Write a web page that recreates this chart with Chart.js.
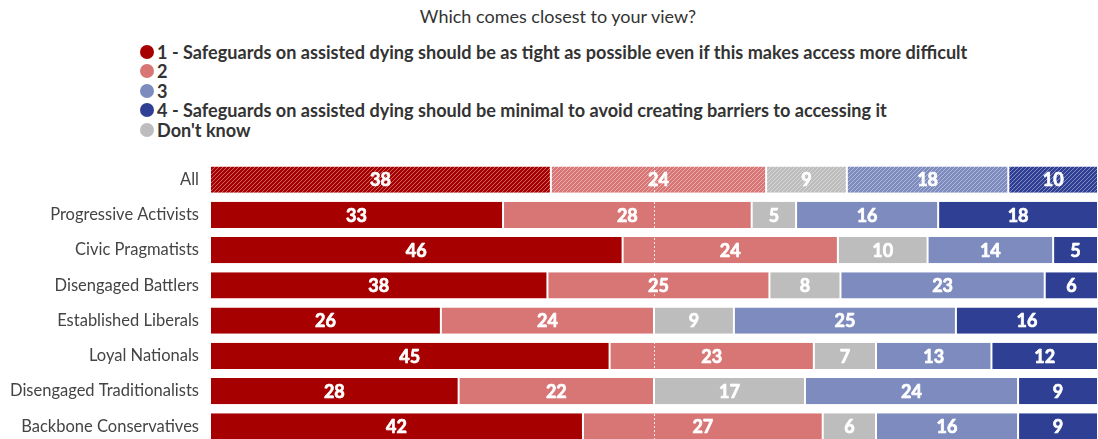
<!DOCTYPE html>
<html>
<head>
<meta charset="utf-8">
<script src="https://cdn.jsdelivr.net/npm/chart.js@4.4.1/dist/chart.umd.min.js"></script>
<style>
  html, body { margin: 0; padding: 0; background: #fff; overflow: hidden; }
  body { width: 1098px; height: 439px; position: relative; }
  #title { position: absolute; left: 358px; width: 400px; top: 5px; text-align: center;
           font-family: Lato, "Open Sans", sans-serif; font-size: 18px; color: #333; }
  #legend { position: absolute; left: 140px; top: 42px; font-family: Lato, "Open Sans", sans-serif;
            font-weight: bold; font-size: 18.1px; color: #333; }
  .li { display: flex; align-items: center; height: 19.5px; white-space: nowrap; }
  .dot { width: 14px; height: 14px; border-radius: 50%; margin-right: 3px; flex: none; }
  #wrap { position: absolute; left: 0; top: 162px; width: 1098px; height: 282px; }
</style>
</head>
<body>
<div id="title">Which comes closest to your view?</div>
<div id="legend"></div>
<div id="wrap"><canvas id="c"></canvas></div>
<script>
const categories = ["All", "Progressive Activists", "Civic Pragmatists", "Disengaged Battlers",
  "Established Liberals", "Loyal Nationals", "Disengaged Traditionalists", "Backbone Conservatives"];

const seriesNames = [
  "1 - Safeguards on assisted dying should be as tight as possible even if this makes access more difficult",
  "2",
  "Don't know",
  "3",
  "4 - Safeguards on assisted dying should be minimal to avoid creating barriers to accessing it"
];
const seriesColors = ["#a60000", "#d87575", "#bdbdbd", "#7d8bbf", "#2e3f94"];
const legendOrder = [0, 1, 3, 4, 2];

const tight1    = [38, 33, 46, 38, 26, 45, 28, 42];
const option2   = [24, 28, 24, 25, 24, 23, 22, 27];
const dontKnow  = [9, 5, 10, 8, 9, 7, 17, 6];
const option3   = [18, 16, 14, 23, 25, 13, 24, 16];
const minimal4  = [10, 18, 5, 6, 16, 12, 9, 9];

const seriesValues = [tight1, option2, dontKnow, option3, minimal4];

// each row is drawn as a share of its own total
const rowTotals = categories.map((_, i) => seriesValues.reduce((s, arr) => s + arr[i], 0));

function hatch(color) {
  const s = 4;
  const c = document.createElement('canvas');
  c.width = s; c.height = s;
  const g = c.getContext('2d');
  g.fillStyle = color; g.fillRect(0, 0, s, s);
  g.strokeStyle = 'rgba(255,255,255,0.4)';
  g.lineWidth = 1;
  g.beginPath();
  g.moveTo(0, s); g.lineTo(s, 0);
  g.moveTo(-1, 1); g.lineTo(1, -1);
  g.moveTo(s - 1, s + 1); g.lineTo(s + 1, s - 1);
  g.stroke();
  return document.createElement('canvas').getContext('2d').createPattern(c, 'repeat');
}

// HTML legend
const legendEl = document.getElementById('legend');
legendOrder.forEach(k => {
  const row = document.createElement('div'); row.className = 'li';
  const d = document.createElement('span'); d.className = 'dot'; d.style.background = seriesColors[k];
  const t = document.createElement('span'); t.textContent = seriesNames[k];
  row.appendChild(d); row.appendChild(t); legendEl.appendChild(row);
});

const datasets = seriesValues.map((vals, k) => ({
  label: seriesNames[k],
  raw: vals,
  data: vals.map((v, i) => v / rowTotals[i] * 100),
  backgroundColor: categories.map((c, i) => i === 0 ? hatch(seriesColors[k]) : seriesColors[k]),
  borderColor: '#ffffff',
  borderWidth: { left: 1, right: 1, top: 0, bottom: 0 },
  borderSkipped: false,
  barPercentage: 0.75,
  categoryPercentage: 1
}));

const labelPlugin = {
  id: 'segLabels',
  afterDatasetsDraw(chart) {
    const ctx = chart.ctx;
    const area = chart.chartArea;
    const xs = chart.scales.x;
    // dotted midline
    ctx.save();
    const mx = Math.round(xs.getPixelForValue(50)) + 0.5;
    ctx.strokeStyle = 'rgba(255,255,255,0.85)';
    ctx.lineWidth = 1;
    ctx.setLineDash([2, 2]);
    ctx.beginPath(); ctx.moveTo(mx, area.top); ctx.lineTo(mx, area.bottom); ctx.stroke();
    ctx.restore();

    ctx.save();
    ctx.font = 'bold 18px Lato, "Open Sans", sans-serif';
    ctx.fillStyle = '#ffffff';
    ctx.strokeStyle = '#ffffff';
    ctx.lineWidth = 0.7;
    ctx.lineJoin = 'round';
    ctx.textAlign = 'center';
    ctx.textBaseline = 'middle';
    chart.data.datasets.forEach((ds, di) => {
      const meta = chart.getDatasetMeta(di);
      meta.data.forEach((el, i) => {
        const cx = (el.x + el.base) / 2;
        ctx.fillText(String(ds.raw[i]), cx, el.y + 1);
        ctx.strokeText(String(ds.raw[i]), cx, el.y + 1);
      });
    });
    ctx.restore();
  }
};

new Chart(document.getElementById('c'), {
  type: 'bar',
  data: { labels: categories, datasets },
  options: {
    indexAxis: 'y',
    responsive: true,
    maintainAspectRatio: false,
    animation: false,
    layout: { padding: 0 },
    plugins: { legend: { display: false }, title: { display: false }, tooltip: { enabled: false } },
    scales: {
      x: { stacked: true, min: 0, max: 100, display: false },
      y: {
        stacked: true,
        grid: { display: false },
        border: { display: false },
        afterFit(scale) { scale.width = 210; scale.paddingTop = 0; scale.paddingBottom = 0; },
        ticks: { color: '#444', padding: 3, font: { family: 'Lato, "Open Sans", sans-serif', size: 16.5 } }
      }
    }
  },
  plugins: [labelPlugin]
});
</script>
</body>
</html>
